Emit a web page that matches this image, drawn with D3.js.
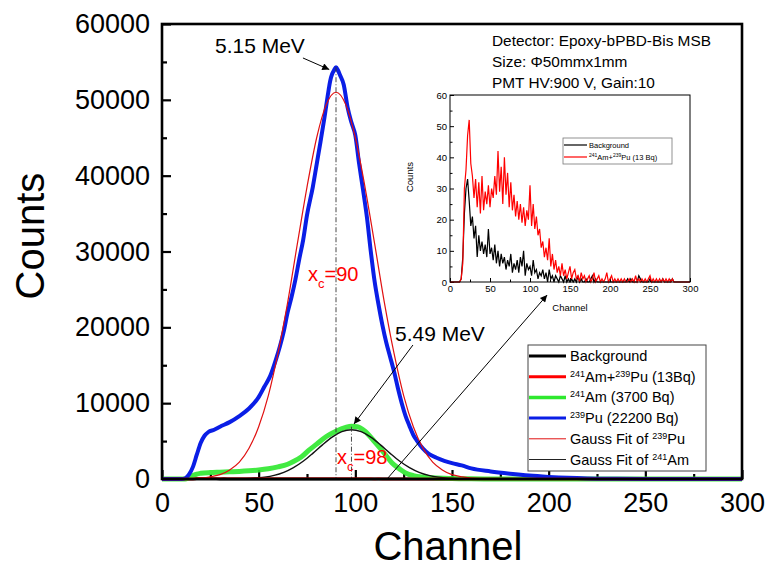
<!DOCTYPE html>
<meta charset="utf-8">
<style>
  body{ margin:0; background:#fff; }
  svg{ display:block; font-family: Arial, "Liberation Sans", sans-serif; }
  .frame{ fill:none; stroke:#000; }
</style>
<script src="https://d3js.org/d3.v7.min.js"></script>
<svg id="vis"></svg>
<script>
  var width = 767,
    height = 570;

  // main spectra, [channel, counts]
  var pu239 = [[0,0],[10,0],[12,100],[14,600],[16,1600],[18,3200],[20,4750],[22,5700],[24,6200],
    [27,6500],[30,6900],[35,7500],[40,8300],[45,9300],[50,10800],[53,12200],[56,13600],[59,15800],
    [61,17500],[63,19500],[65,22000],[67,24000],[69,26300],[71,29000],[73,31500],[75,34800],[78,38500],
    [80,41500],[82,44500],[84,47600],[86,51000],[87,52500],[88,53400],[89,53900],[90,54300],[91,53900],
    [92,53300],[94,52000],[96,49000],[98,47000],[100,45300],[102,41500],[104,38100],[106,34500],
    [108,30000],[110,26000],[112,23000],[114,20300],[116,18000],[118,16100],[120,14200],[122,12000],
    [124,10000],[126,8300],[128,7000],[130,5800],[132,5000],[135,4000],[138,3300],[142,2800],[146,2400],
    [150,2100],[155,1800],[160,1400],[170,1000],[180,700],[190,450],[200,280],[210,150],[220,70],
    [235,20],[250,0],[300,0]];

  var am241 = [[0,0],[12,0],[14,200],[16,450],[18,650],[20,750],[25,850],[30,900],[35,950],[40,1000],
    [45,1080],[50,1190],[55,1350],[60,1600],[65,1950],[68,2300],[72,2900],[76,3800],[80,4600],[85,5600],
    [90,6300],[95,6800],[98,6950],[101,6900],[105,6300],[110,4900],[115,3400],[119,2100],[123,1300],
    [126,800],[130,450],[135,250],[140,150],[150,60],[160,20],[170,0],[300,0]];

  var fitPu239 = [[10,0],[20,110],[25,300],[30,570],[35,1200],[40,2230],[45,4050],[50,6900],[55,11000],
    [60,16600],[65,23300],[70,31000],[75,38500],[80,45000],[85,49400],[90,51000],[95,49400],[100,45000],
    [105,38500],[110,31000],[115,23300],[120,16600],[125,11000],[130,6900],[135,4050],[140,2230],
    [145,1200],[150,570],[155,300],[160,110],[170,20],[180,0]];

  var fitAm241 = [[30,10],[38,18],[48,110],[53,240],[58,475],[63,880],[68,1500],[73,2340],[78,3380],
    [83,4500],[88,5520],[93,6240],[98,6500],[103,6240],[108,5520],[113,4500],[118,3380],[123,2340],
    [128,1500],[133,880],[138,475],[143,240],[148,110],[158,18],[170,0]];

  // low activity spectra (inset), bins of 2 channels starting at 0
  var binWidth = 2;
  var amPuLow = [0,0,0,0,0,0,0,1,6,30,
    36,47,52,38,34,27,33,24,32,22,
    34,23,29,25,31,24,30,27,34,28,
    42,29,37,25,40,28,35,24,32,23,
    28,21,26,20,25,19,24,18,23,20,
    31,18,25,17,21,15,17,11,13,8,
    11,7,14,5,9,4,7,3,5,2,
    6,2,4,1,3,5,1,3,4,1,
    2,0,3,1,2,0,1,2,0,1,
    3,0,1,2,0,1,0,1,3,0,
    1,2,0,1,0,1,0,1,0,1,
    0,0,1,0,1,0,2,0,1,0,
    1,0,1,0,1,2,0,1,0,1,
    0,1,0,1,0,1,0,1,0,1,
    0,0,0,0,0,0,0,0,0,0,
    0];
  var background = [0,0,0,0,0,0,0,1,8,22,
    30,33,26,18,21,14,18,8,15,10,
    13,9,12,8,17,9,11,7,12,6,
    10,5,9,6,8,4,7,5,9,3,
    6,4,7,3,8,5,10,2,6,4,
    5,2,7,3,4,1,3,2,4,1,
    3,0,4,1,2,0,2,1,0,2,
    1,0,2,0,1,0,1,0,1,0,
    2,0,1,0,0,1,0,0,1,2,
    0,1,0,0,0,0,0,0,0,0,
    0,0,0,0,0,0,0,0,0,0,
    0,1,0,1,0,0,0,0,2,1,
    0,0,0,0,0,1,0,0,0,0,
    0,0,0,1,0,0,0,0,0,1,
    0,0,0,0,0,0,0,0,0,0,
    0];

  // peaks and notes
  var peaks = [
    {label: "5.15 MeV", xc: 90, top: 54300, text: [27.4, 56180], tail: [72.9, 55520], tip: [86.5, 54000], xcText: [75.5, 26100]},
    {label: "5.49 MeV", xc: 98, top: 6900, text: [120.5, 18200], tail: [129.8, 17670], tip: [99.3, 7250], xcText: [90.5, 1980]}
  ];
  var infoLines = ["Detector: Epoxy-bPBD-Bis MSB", "Size: \u03A650mmx1mm", "PMT HV:900 V, Gain:10"];

  var xTicks = [0, 50, 100, 150, 200, 250, 300],
    yTicks = [0, 10000, 20000, 30000, 40000, 50000, 60000],
    ixTicks = [0, 50, 100, 150, 200, 250, 300],
    iyTicks = [0, 10, 20, 30, 40, 50, 60];

  var legendItems = [
    {parts: [["Background"]], color: "#000", w: 3},
    {parts: [["241", 1], ["Am+"], ["239", 1], ["Pu (13Bq)"]], color: "#f00", w: 3},
    {parts: [["241", 1], ["Am (3700 Bq)"]], color: "#2ee82e", w: 3.5},
    {parts: [["239", 1], ["Pu (22200 Bq)"]], color: "#0a1ee6", w: 3},
    {parts: [["Gauss Fit of "], ["239", 1], ["Pu"]], color: "#e01010", w: 1},
    {parts: [["Gauss Fit of "], ["241", 1], ["Am"]], color: "#222", w: 1}
  ];
  var insetLegend = [
    {parts: [["Background"]], color: "#000"},
    {parts: [["241", 1], ["Am+"], ["239", 1], ["Pu (13 Bq)"]], color: "#f00"}
  ];

  // scales
  var x = d3.scaleLinear().domain([0, 300]).range([162, 742]);
  var y = d3.scaleLinear().domain([0, 60000]).range([479, 24]);
  var ix = d3.scaleLinear().domain([0, 300]).range([450, 690]);
  var iy = d3.scaleLinear().domain([0, 60]).range([282, 95]);

  var svg = d3.select("#vis")
    .attr("width", width)
    .attr("height", height);

  svg.append("defs").append("marker")
    .attr("id", "arr")
    .attr("viewBox", "0 0 10 10")
    .attr("refX", 10).attr("refY", 5)
    .attr("markerWidth", 9).attr("markerHeight", 7)
    .attr("markerUnits", "userSpaceOnUse")
    .attr("orient", "auto")
    .append("path").attr("d", "M0,0L10,5L0,10Z").attr("fill", "#000");

  function richText(sel, parts, size, supSize, supRise) {
    parts.forEach(function(p) {
      var t = sel.append("tspan").text(p[0]);
      if (p[1]) {
        t.attr("font-size", supSize).attr("dy", -supRise);
      } else {
        t.attr("font-size", size);
      }
    });
    // reset baseline after superscripts
    var shift = 0;
    sel.selectAll("tspan").each(function(d, i) {
      var p = parts[i];
      if (p[1]) { shift = 1; }
      else if (shift) { d3.select(this).attr("dy", supRise); shift = 0; }
    });
  }

  // main axes -------------------------------------------------
  var fmt = d3.format("d");
  svg.append("g").attr("transform", "translate(162,0)")
    .call(d3.axisLeft(y).tickValues(yTicks).tickFormat(fmt).tickSize(-9).tickPadding(12));
  svg.append("g").attr("transform", "translate(162,0)")
    .call(d3.axisLeft(y).tickValues(d3.range(5000, 60000, 10000)).tickFormat("").tickSize(-5));
  svg.append("g").attr("transform", "translate(0,479)")
    .call(d3.axisBottom(x).tickValues(xTicks).tickFormat(fmt).tickSize(-9).tickPadding(14));
  svg.append("g").attr("transform", "translate(0,479)")
    .call(d3.axisBottom(x).tickValues(d3.range(25, 300, 50)).tickFormat("").tickSize(-5));
  svg.selectAll(".domain").remove();
  svg.selectAll(".tick line").attr("stroke", "#000").attr("stroke-width", 2.2);
  svg.selectAll(".tick text").attr("font-size", 27).attr("font-family", "Arial, 'Liberation Sans', sans-serif").attr("fill", "#000");

  svg.append("text")
    .attr("transform", "translate(44,236) rotate(-90)")
    .attr("text-anchor", "middle")
    .attr("font-size", 40)
    .text("Counts");
  svg.append("text")
    .attr("x", 448).attr("y", 560)
    .attr("text-anchor", "middle")
    .attr("font-size", 40)
    .text("Channel");

  // main curves -------------------------------------------------
  var line = d3.line().x(d => x(d[0])).y(d => y(d[1])).curve(d3.curveMonotoneX);
  var binLine = d3.line().x((d, i) => x(i * binWidth)).y(d => y(d));

  var plot = svg.append("g");
  plot.append("path").datum(background).attr("d", binLine)
    .attr("fill", "none").attr("stroke", "#000").attr("stroke-width", 3);
  plot.append("path").datum(am241).attr("d", line)
    .attr("fill", "none").attr("stroke", "#2ee82e").attr("stroke-width", 5).attr("stroke-opacity", 0.9);
  plot.append("path").datum(pu239).attr("d", line)
    .attr("fill", "none").attr("stroke", "#0a1ee6").attr("stroke-width", 4).attr("stroke-linejoin", "round");
  plot.append("path").datum(fitPu239).attr("d", line)
    .attr("fill", "none").attr("stroke", "#e01010").attr("stroke-width", 1.2);
  plot.append("path").datum(fitAm241).attr("d", line)
    .attr("fill", "none").attr("stroke", "#111").attr("stroke-width", 1.4);
  plot.append("path").datum(amPuLow).attr("d", binLine)
    .attr("fill", "none").attr("stroke", "#f00").attr("stroke-width", 2.5);

  // peak notes
  peaks.forEach(function(p) {
    svg.append("line")
      .attr("x1", x(p.xc)).attr("x2", x(p.xc))
      .attr("y1", y(p.top)).attr("y2", y(0))
      .attr("stroke", "#333").attr("stroke-width", 0.9)
      .attr("stroke-dasharray", "5,2,1,2");
    svg.append("text")
      .attr("x", x(p.text[0])).attr("y", y(p.text[1]))
      .attr("font-size", 21)
      .text(p.label);
    svg.append("line")
      .attr("x1", x(p.tail[0])).attr("y1", y(p.tail[1]))
      .attr("x2", x(p.tip[0])).attr("y2", y(p.tip[1]))
      .attr("stroke", "#000").attr("stroke-width", 1)
      .attr("marker-end", "url(#arr)");
    var t = svg.append("text")
      .attr("x", x(p.xcText[0])).attr("y", y(p.xcText[1]))
      .attr("fill", "#f00").attr("font-size", 20);
    t.append("tspan").text("x");
    t.append("tspan").attr("font-size", 13).attr("dy", 7).text("c");
    t.append("tspan").attr("dy", -7).text("=" + p.xc);
  });

  // arrow pointing to the inset
  svg.append("line")
    .attr("x1", x(116.4)).attr("y1", y(0))
    .attr("x2", x(199.2)).attr("y2", y(24260))
    .attr("stroke", "#000").attr("stroke-width", 1)
    .attr("marker-end", "url(#arr)");

  // frame
  svg.append("rect").attr("class", "frame")
    .attr("x", 162).attr("y", 24)
    .attr("width", 742 - 162).attr("height", 479 - 24)
    .attr("stroke-width", 2.6);

  // detector info
  svg.append("g").selectAll("text")
    .data(infoLines)
    .enter().append("text")
    .attr("x", 492)
    .attr("y", (d, i) => 46 + i * 21)
    .attr("font-size", 15.4)
    .text(d => d);

  // main legend -------------------------------------------------
  var lg = svg.append("g");
  lg.append("rect")
    .attr("x", 528).attr("y", 345).attr("width", 178).attr("height", 126)
    .attr("fill", "#fff").attr("stroke", "#444").attr("stroke-width", 1);
  legendItems.forEach(function(d, i) {
    var yy = 356 + i * 20.7;
    lg.append("line")
      .attr("x1", 529).attr("x2", 566).attr("y1", yy).attr("y2", yy)
      .attr("stroke", d.color).attr("stroke-width", d.w);
    var t = lg.append("text").attr("x", 570).attr("y", yy + 5);
    richText(t, d.parts, 14.5, 9, 5);
  });

  // inset -------------------------------------------------
  var inset = svg.append("g");
  inset.append("g").attr("transform", "translate(450,0)")
    .call(d3.axisLeft(iy).tickValues(iyTicks).tickFormat(fmt).tickSize(-4).tickPadding(3));
  inset.append("g").attr("transform", "translate(450,0)")
    .call(d3.axisLeft(iy).tickValues(d3.range(5, 60, 10)).tickFormat("").tickSize(-2.5));
  inset.append("g").attr("transform", "translate(0,282)")
    .call(d3.axisBottom(ix).tickValues(ixTicks).tickFormat(fmt).tickSize(-4).tickPadding(3));
  inset.append("g").attr("transform", "translate(0,282)")
    .call(d3.axisBottom(ix).tickValues(d3.range(25, 300, 50)).tickFormat("").tickSize(-2.5));
  inset.selectAll(".domain").remove();
  inset.selectAll(".tick line").attr("stroke", "#000").attr("stroke-width", 1);
  inset.selectAll(".tick text").attr("font-size", 9.5).attr("font-family", "Arial, 'Liberation Sans', sans-serif").attr("fill", "#000");

  var iLine = d3.line().x((d, i) => ix(i * binWidth)).y(d => iy(d));
  inset.append("path").datum(background).attr("d", iLine)
    .attr("fill", "none").attr("stroke", "#000").attr("stroke-width", 1.2);
  inset.append("path").datum(amPuLow).attr("d", iLine)
    .attr("fill", "none").attr("stroke", "#f00").attr("stroke-width", 1.2);

  inset.append("rect").attr("class", "frame")
    .attr("x", 450).attr("y", 95).attr("width", 240).attr("height", 187)
    .attr("stroke-width", 1);

  inset.append("text")
    .attr("transform", "translate(413,177) rotate(-90)")
    .attr("text-anchor", "middle").attr("font-size", 9.5)
    .text("Counts");
  inset.append("text")
    .attr("x", 570).attr("y", 311)
    .attr("text-anchor", "middle").attr("font-size", 9.5)
    .text("Channel");

  inset.append("rect")
    .attr("x", 563).attr("y", 138).attr("width", 109).attr("height", 26)
    .attr("fill", "#fff").attr("stroke", "#777").attr("stroke-width", 0.8);
  insetLegend.forEach(function(d, i) {
    var yy = 145 + i * 12;
    inset.append("line")
      .attr("x1", 564).attr("x2", 587).attr("y1", yy).attr("y2", yy)
      .attr("stroke", d.color).attr("stroke-width", 1.2);
    var t = inset.append("text").attr("x", 589).attr("y", yy + 2.8);
    richText(t, d.parts, 7.5, 5, 3);
  });
</script>
